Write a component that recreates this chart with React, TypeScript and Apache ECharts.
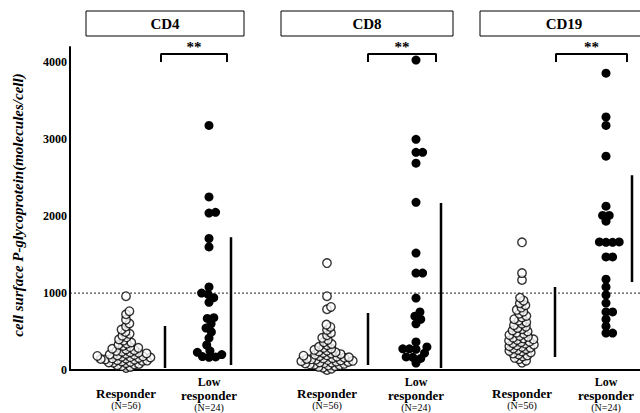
import React, { useEffect, useRef } from "react";
import * as echarts from "echarts";

// ---- data (molecules/cell) ----
const panels = ["CD4", "CD8", "CD19"];
const groupLabels = ["Responder", "Low responder"];
const groupN = ["(N=56)", "(N=24)"];
const yTicks = [0, 1000, 2000, 3000, 4000];
const cutoff = 1000;

const cd4Responder = [960, 765, 725, 655, 605, 565, 525, 495, 470, 445, 425, 398, 382, 358, 342, 328, 312, 298, 288, 276, 268, 258, 247, 238, 231, 224, 216, 208, 201, 196, 189, 183, 178, 172, 168, 163, 158, 152, 148, 143, 138, 133, 127, 122, 117, 112, 106, 99, 94, 88, 79, 71, 62, 51, 40, 26];
const cd4Low = [3180, 2250, 2050, 2040, 1710, 1600, 1080, 1000, 985, 940, 880, 680, 670, 600, 545, 495, 415, 325, 250, 230, 200, 175, 170, 165];
const cd8Responder = [1390, 960, 820, 790, 590, 560, 520, 482, 452, 418, 392, 362, 338, 322, 302, 288, 276, 262, 251, 242, 231, 222, 214, 206, 199, 191, 186, 179, 172, 166, 160, 154, 149, 144, 139, 134, 129, 124, 119, 114, 109, 104, 99, 95, 90, 85, 80, 74, 69, 64, 58, 50, 41, 30, 16, 0];
const cd8Low = [4030, 3000, 2830, 2830, 2690, 2180, 1520, 1260, 1260, 935, 755, 700, 660, 600, 365, 300, 275, 275, 270, 220, 170, 165, 150, 90];
const cd19Responder = [1660, 1260, 1170, 940, 902, 868, 842, 812, 782, 758, 732, 702, 684, 661, 641, 622, 601, 583, 562, 546, 531, 514, 501, 486, 471, 456, 442, 431, 421, 411, 399, 391, 381, 368, 361, 349, 341, 329, 321, 309, 301, 291, 279, 271, 262, 249, 241, 228, 214, 201, 189, 176, 158, 141, 121, 95];
const cd19Low = [3860, 3290, 3180, 2780, 2130, 2010, 2010, 1935, 1665, 1665, 1660, 1660, 1470, 1470, 1180, 1080, 975, 870, 755, 755, 660, 570, 480, 480];

// mean ± SD bars [low, high]
const cd4Bars = [[26, 571], [65, 1727]];
const cd8Bars = [[65, 740], [26, 2170]];
const cd19Bars = [[169, 1078], [1143, 2532]];
const significance = ["**", "**", "**"];

// ---- layout ----
const W = 640, H = 413;
const GL = 70, GT = 47, GB = 43;
const Y_MAX = 4200;
const pxPerUnit = (H - GT - GB) / Y_MAX;
const centers = [[126, 209], [327, 416], [522, 606]];
const barX = [[165, 231], [368, 441], [555, 632]];
const bracketX = [[161, 227], [368, 436], [556, 627]];
const boxes = [[86, 244], [281, 453], [480, 660]];
const boxTextX = [165, 367, 564];
const SERIF = "'Liberation Serif', 'DejaVu Serif', serif";

function swarm(values: number[], centerPx: number, d: number): number[][] {
  const sorted = [...values].sort((a, b) => a - b);
  const placed: { x: number; y: number }[] = [];
  const out: number[][] = [];
  for (const v of sorted) {
    const y = v * pxPerUnit;
    const cands = [0];
    for (const p of placed) {
      const dy = Math.abs(p.y - y);
      if (dy < d) {
        const dx = Math.sqrt(d * d - dy * dy);
        cands.push(p.x + dx, p.x - dx);
      }
    }
    cands.sort((a, b) => Math.abs(a) - Math.abs(b));
    let chosen = 0;
    for (const c of cands) {
      if (placed.every((p) => (p.x - c) ** 2 + (p.y - y) ** 2 >= d * d - 1e-6)) {
        chosen = c;
        break;
      }
    }
    placed.push({ x: chosen, y });
    out.push([centerPx - GL + chosen, v]);
  }
  return out;
}

export default function App() {
  const ref = useRef<HTMLDivElement>(null);
  useEffect(() => {
    if (!ref.current) return;
    const chart = echarts.init(ref.current, undefined, { renderer: "svg" });
    const responders = [cd4Responder, cd8Responder, cd19Responder];
    const lows = [cd4Low, cd8Low, cd19Low];
    const bars = [cd4Bars, cd8Bars, cd19Bars];
    const series: any[] = [];
    series.push({
      type: "line",
      data: [[0, cutoff], [W - GL, cutoff]],
      symbol: "none",
      lineStyle: { color: "#222", width: 1, type: [2, 2] },
      z: 1,
    });
    panels.forEach((p, i) => {
      series.push({
        type: "scatter",
        name: p + " " + groupLabels[0],
        data: swarm(responders[i], centers[i][0], 4.6),
        symbolSize: 8.5,
        itemStyle: { color: "#fff", borderColor: "#000", borderWidth: 1.4 },
        z: 5,
      });
      series.push({
        type: "scatter",
        name: p + " " + groupLabels[1],
        data: swarm(lows[i], centers[i][1], 6.6),
        symbolSize: 9,
        itemStyle: { color: "#000", opacity: 1 },
        z: 5,
      });
      bars[i].forEach((b, j) => {
        series.push({
          type: "line",
          data: [[barX[i][j] - GL, b[0]], [barX[i][j] - GL, b[1]]],
          symbol: "none",
          lineStyle: { color: "#000", width: 2.5 },
          z: 3,
        });
      });
      const top = (H - GB - 54) / pxPerUnit;
      const leg = (H - GB - 62) / pxPerUnit;
      series.push({
        type: "line",
        data: [
          [bracketX[i][0] - GL, leg],
          [bracketX[i][0] - GL, top],
          [bracketX[i][1] - GL, top],
          [bracketX[i][1] - GL, leg],
        ],
        symbol: "none",
        lineStyle: { color: "#000", width: 2 },
        z: 3,
      });
    });

    const graphic: any[] = [];
    const txt = (x: number, y: number, text: string, font: string) => ({
      type: "text",
      x,
      y,
      style: { text, font, fill: "#000", textAlign: "center", textVerticalAlign: "middle" },
    });
    panels.forEach((p, i) => {
      graphic.push({
        type: "rect",
        shape: { x: boxes[i][0], y: 11, width: boxes[i][1] - boxes[i][0], height: 25 },
        style: { fill: "#fff", stroke: "#000", lineWidth: 1 },
      });
      graphic.push(txt(boxTextX[i], 24, p, `bold 15px ${SERIF}`));
      graphic.push(txt((bracketX[i][0] + bracketX[i][1]) / 2, 47, significance[i], `bold 15px ${SERIF}`));
      graphic.push(txt(centers[i][0], 393, groupLabels[0], `bold 13px ${SERIF}`));
      graphic.push(txt(centers[i][0], 405, groupN[0], `10px ${SERIF}`));
      const lowWords = groupLabels[1].split(" ");
      graphic.push(txt(centers[i][1], 382, lowWords[0], `bold 12px ${SERIF}`));
      graphic.push(txt(centers[i][1], 395, lowWords[1], `bold 13px ${SERIF}`));
      graphic.push(txt(centers[i][1], 407, groupN[1], `10px ${SERIF}`));
    });
    graphic.push({
      type: "text",
      x: 18,
      y: 205,
      rotation: Math.PI / 2,
      style: {
        text: "cell surface P-glycoprotein(molecules/cell)",
        font: `italic bold 15px ${SERIF}`,
        fill: "#000",
        textAlign: "center",
        textVerticalAlign: "middle",
      },
    });

    chart.setOption({
      animation: false,
      grid: { left: GL, right: 0, top: GT, bottom: GB, containLabel: false },
      xAxis: {
        type: "value",
        min: 0,
        max: W - GL,
        axisLine: { show: true, lineStyle: { color: "#000", width: 2 } },
        axisTick: { show: false },
        axisLabel: { show: false },
        splitLine: { show: false },
      },
      yAxis: {
        type: "value",
        min: 0,
        max: Y_MAX,
        interval: 1000,
        axisLine: { show: true, lineStyle: { color: "#000", width: 2 } },
        axisTick: { show: false },
        splitLine: { show: false },
        axisLabel: {
          margin: 3,
          color: "#000",
          fontFamily: SERIF,
          fontWeight: "bold",
          fontSize: 12,
          formatter: (v: number) => (yTicks.includes(v) ? String(v) : ""),
        },
      },
      series,
      graphic,
    });
    return () => chart.dispose();
  }, []);
  return <div ref={ref} style={{ width: W, height: H, position: "absolute", left: 0, top: 0 }} />;
}
